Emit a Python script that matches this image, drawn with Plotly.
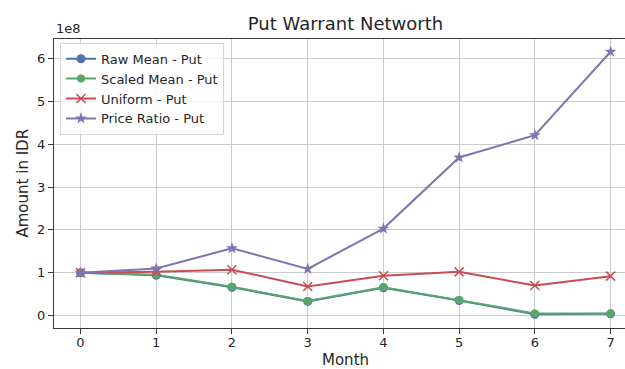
import plotly.graph_objects as go

months = [0, 1, 2, 3, 4, 5, 6, 7]
raw_mean = [1.00e8, 0.94e8, 0.66e8, 0.33e8, 0.65e8, 0.35e8, 0.03e8, 0.04e8]
scaled_mean = [1.00e8, 0.95e8, 0.67e8, 0.34e8, 0.66e8, 0.36e8, 0.05e8, 0.05e8]
uniform = [1.00e8, 1.02e8, 1.07e8, 0.68e8, 0.93e8, 1.02e8, 0.70e8, 0.92e8]
price_ratio = [1.00e8, 1.10e8, 1.57e8, 1.09e8, 2.03e8, 3.69e8, 4.21e8, 6.16e8]
ytick_vals = [0, 1e8, 2e8, 3e8, 4e8, 5e8, 6e8]
ytick_text = ["0", "1", "2", "3", "4", "5", "6"]

FONT = "DejaVu Sans"
TXT = "#262626"

fig = go.Figure()
fig.add_trace(go.Scatter(x=months, y=raw_mean, name="Raw Mean - Put", mode="lines+markers",
                         line=dict(color="#4C72B0", width=2),
                         marker=dict(symbol="circle", size=9, color="#4C72B0")))
fig.add_trace(go.Scatter(x=months, y=scaled_mean, name="Scaled Mean - Put", mode="lines+markers",
                         line=dict(color="#55A868", width=2),
                         marker=dict(symbol="circle", size=8, color="#55A868")))
fig.add_trace(go.Scatter(x=months, y=uniform, name="Uniform - Put", mode="lines+markers",
                         line=dict(color="#C44E52", width=2),
                         marker=dict(symbol="x-thin", size=9, color="#C44E52",
                                     line=dict(color="#C44E52", width=1.5))))
fig.add_trace(go.Scatter(x=months, y=price_ratio, name="Price Ratio - Put", mode="lines+markers",
                         line=dict(color="#8172B2", width=2),
                         marker=dict(symbol="star", size=9, color="#8172B2")))

axis_common = dict(showgrid=True, gridcolor="#cbcbcb", gridwidth=1.3,
                   showline=True, linecolor="#3a3a3a", linewidth=1.2,
                   ticks="outside", ticklen=5, tickcolor="#3a3a3a", tickwidth=1,
                   tickfont=dict(family=FONT, size=13, color=TXT), zeroline=False,
                   automargin=False)

fig.update_layout(
    width=625, height=369,
    margin=dict(l=54, r=0, t=39, b=41),
    paper_bgcolor="white", plot_bgcolor="white",
    font=dict(family=FONT, color=TXT),
    title=dict(text="Put Warrant Networth", font=dict(family=FONT, size=18, color=TXT),
               x=0.5105, xref="paper", xanchor="center",
               y=(369 - 24) / 369, yref="container", yanchor="middle"),
    xaxis=dict(range=[-0.35, 7.19], tickvals=months, mirror=True, ticklabelstandoff=-3,
               **axis_common),
    yaxis=dict(range=[-0.291e8, 6.457e8], tickvals=ytick_vals, ticktext=ytick_text, **axis_common),
    legend=dict(x=0.0105, y=0.987, xanchor="left", yanchor="top",
                bgcolor="rgba(255,255,255,0.8)", bordercolor="#d5d5d5", borderwidth=1,
                font=dict(family=FONT, size=13, color=TXT)),
    showlegend=True,
    annotations=[
        dict(text="1e8", xref="paper", yref="paper", x=0.0, y=1.0, xanchor="left", yanchor="bottom",
             yshift=1, showarrow=False, font=dict(family=FONT, size=13, color=TXT)),
        dict(text="Amount in IDR", xref="paper", yref="paper", x=(22 - 54) / 571, y=0.5,
             xanchor="center", yanchor="middle", textangle=-90, showarrow=False,
             font=dict(family=FONT, size=15, color=TXT)),
        dict(text="Month", xref="paper", yref="paper", x=0.5105, y=(328.5 - 361) / 289.5,
             xanchor="center", yanchor="middle", showarrow=False,
             font=dict(family=FONT, size=15, color=TXT)),
    ],
)

fig.write_html("out.html", config={"displayModeBar": False},
               post_script="document.body.style.margin='0';document.body.style.padding='0';"
                           "document.body.style.overflow='hidden';")
